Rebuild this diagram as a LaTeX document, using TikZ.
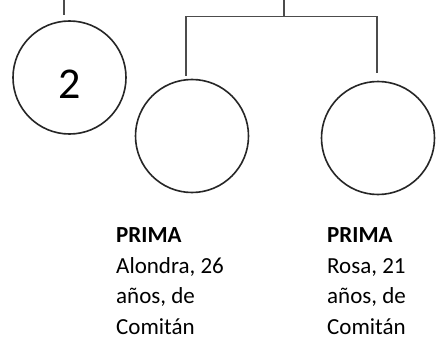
\documentclass[tikz,border=0pt]{standalone}
\usepackage{fontspec}
\setmainfont{Carlito}
\begin{document}
\begin{tikzpicture}[x=1pt,y=-1pt,
 person/.style={circle,draw=black!85,line width=1.6pt,minimum size=113pt,inner sep=0pt},
 link/.style={draw=black!70,line width=1.2pt},
 info/.style={anchor=base west,align=left,font=\fontsize{23}{30.5}\selectfont,inner sep=0pt}]
\useasboundingbox (0,0) rectangle (444,345);
\node[person] (c1) at (69.5,77.5) {};
\node[font=\fontsize{44}{50}\selectfont,inner sep=0pt] (n2) at ([yshift=-6.5pt]c1.center) {2};
\node[person] (c2) at (192,136) {};
\node[person] (c3) at (378,138) {};
\coordinate (t1) at (64,0);
\coordinate (t2) at (284,0);
\coordinate (j) at (284,16.5);
\coordinate (jl) at (186,16.5);
\coordinate (jr) at (377,16.5);
\draw[link] (t1) -- (64,15);
\draw[link] (t2) -- (j);
\draw[link] ([xshift=-0.6pt]jl) -- ([xshift=0.6pt]jr);
\draw[link] (jl) -- (186,76);
\draw[link] (jr) -- (377,73);
\node[info] (p1) at (116,334) {\textbf{PRIMA}\\Alondra, 26\\años, de\\Comitán};
\node[info] (p2) at (327,334) {\textbf{PRIMA}\\Rosa, 21\\años, de\\Comitán};
\end{tikzpicture}
\end{document}
